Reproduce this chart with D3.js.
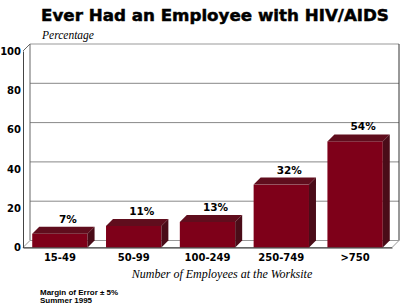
<!DOCTYPE html>
<html lang="en">
<head>
    <meta charset="UTF-8">
    <title>Ever Had an Employee with HIV/AIDS</title>
    <style>
        body { margin: 0; background: #fff; }
        .tick-label { font-family: "DejaVu Sans", sans-serif; font-weight: bold; }
        .serif-it { font-family: "Liberation Serif", "DejaVu Serif", serif; font-style: italic; }
    </style>
</head>
<body>
    <svg id="chart" width="400" height="305"></svg>

    <script src="https://d3js.org/d3.v7.min.js"></script>
    <script>
        // data
        const categories = ["15-49", "50-99", "100-249", "250-749", ">750"];
        const percentages = [7, 11, 13, 32, 54];
        const yTicks = [0, 20, 40, 60, 80, 100];

        const svg = d3.select("#chart");

        // front plane and 3d depth offset
        const plotLeft = 23, plotRight = 392, plotBottom = 247.5, plotTop = 51;
        const dx = 7, dy = -7;

        const x = d3.scaleBand()
            .domain(categories)
            .range([plotLeft, plotRight])
            .paddingInner(0.25)
            .paddingOuter(0.125);

        const y = d3.scaleLinear()
            .domain([0, 100])
            .range([plotBottom, plotTop]);

        // title, fitted to width
        const title = svg.append("text")
            .attr("x", 215)
            .attr("y", 21)
            .attr("text-anchor", "middle")
            .attr("font-family", "DejaVu Sans, sans-serif")
            .attr("font-weight", "bold")
            .attr("font-size", 17)
            .attr("stroke", "#000")
            .attr("stroke-width", 0.5)
            .text("Ever Had an Employee with HIV/AIDS");
        const tw = title.node().getComputedTextLength();
        title.attr("font-size", 17 * 348 / tw);

        svg.append("text")
            .attr("class", "serif-it")
            .attr("x", 42)
            .attr("y", 39)
            .attr("font-size", 11.5)
            .text("Percentage");

        // back wall
        svg.append("rect")
            .attr("x", plotLeft + dx).attr("y", y(100) + dy)
            .attr("width", plotRight - plotLeft).attr("height", y(0) - y(100))
            .attr("fill", "#fff");

        // gridlines on back wall
        svg.append("g").selectAll("line")
            .data(yTicks.filter(d => d > 0))
            .join("line")
            .attr("x1", plotLeft + dx).attr("x2", plotRight + dx)
            .attr("y1", d => y(d) + dy).attr("y2", d => y(d) + dy)
            .attr("stroke", d => d === 100 ? "#999" : "#888")
            .attr("stroke-width", 1);

        // back wall right edge and left back edge
        svg.append("line")
            .attr("x1", plotRight + dx).attr("x2", plotRight + dx)
            .attr("y1", y(100) + dy).attr("y2", y(0) + dy)
            .attr("stroke", "#333");
        svg.append("line")
            .attr("x1", plotLeft + dx).attr("x2", plotLeft + dx)
            .attr("y1", y(100) + dy).attr("y2", y(0) + dy)
            .attr("stroke", "#666");
        // left wall top diagonal
        svg.append("line")
            .attr("x1", plotLeft).attr("y1", y(100))
            .attr("x2", plotLeft + dx).attr("y2", y(100) + dy)
            .attr("stroke", "#666");

        // floor
        svg.append("polygon")
            .attr("points", [
                [plotLeft, y(0)], [plotLeft + dx, y(0) + dy],
                [plotRight + dx, y(0) + dy], [plotRight, y(0)]
            ].map(p => p.join(",")).join(" "))
            .attr("fill", "#fff")
            .attr("stroke", "#999");

        // bars
        const w = x.bandwidth();
        const bars = svg.append("g").selectAll("g")
            .data(categories.map((c, i) => ({ c, v: percentages[i] })))
            .join("g");

        bars.append("rect")
            .attr("x", d => x(d.c))
            .attr("y", d => y(d.v))
            .attr("width", w)
            .attr("height", d => y(0) - y(d.v))
            .attr("fill", "#7e0019");

        bars.append("polygon")
            .attr("points", d => {
                const x0 = x(d.c), yv = y(d.v);
                return [[x0, yv], [x0 + dx, yv + dy], [x0 + w + dx, yv + dy], [x0 + w, yv]]
                    .map(p => p.join(",")).join(" ");
            })
            .attr("fill", "#600d1d");

        bars.append("polygon")
            .attr("points", d => {
                const x1 = x(d.c) + w, yv = y(d.v);
                return [[x1, yv], [x1 + dx, yv + dy], [x1 + dx, y(0) + dy], [x1, y(0)]]
                    .map(p => p.join(",")).join(" ");
            })
            .attr("fill", "#4a0c18");

        bars.append("text")
            .attr("class", "tick-label")
            .attr("x", d => x(d.c) + w / 2 + 8)
            .attr("y", d => y(d.v) + dy - 4)
            .attr("text-anchor", "middle")
            .attr("font-size", 10.5)
            .text(d => d.v + "%");

        // y axis (front left edge)
        const yAxis = svg.append("g")
            .attr("transform", `translate(${plotLeft},0)`)
            .call(d3.axisLeft(y).tickValues(yTicks).tickSize(0).tickPadding(2));
        yAxis.select(".domain").attr("stroke", "#444");
        yAxis.selectAll("text")
            .attr("class", "tick-label")
            .attr("font-size", 10)
            .attr("fill", "#000");

        // x axis (front floor edge)
        const xAxis = svg.append("g")
            .attr("transform", `translate(0,${plotBottom})`)
            .call(d3.axisBottom(x).tickSize(0).tickPadding(6).tickSizeOuter(0));
        xAxis.select(".domain").attr("stroke", "#333");
        xAxis.selectAll("text")
            .attr("class", "tick-label")
            .attr("font-size", 10)
            .attr("fill", "#000");

        svg.append("text")
            .attr("class", "serif-it")
            .attr("x", 222)
            .attr("y", 278)
            .attr("text-anchor", "middle")
            .attr("font-size", 12)
            .text("Number of Employees at the Worksite");

        // footnotes
        const notes = ["Margin of Error \u00b1 5%", "Summer 1995"];
        svg.append("g").selectAll("text")
            .data(notes)
            .join("text")
            .attr("x", 40)
            .attr("y", (d, i) => 295 + i * 7.5)
            .attr("font-family", "Liberation Sans, Arial, sans-serif")
            .attr("font-weight", "bold")
            .attr("font-size", 8)
            .text(d => d);
    </script>
</body>
</html>
